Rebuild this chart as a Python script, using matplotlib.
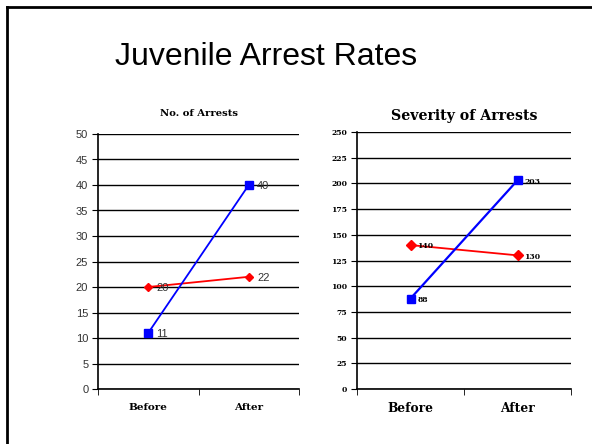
import matplotlib
matplotlib.use("Agg")
import matplotlib.pyplot as plt
from matplotlib.lines import Line2D

categories = ["Before", "After"]
arrests_blue = [11, 40]
arrests_red = [20, 22]
severity_blue = [88, 203]
severity_red = [140, 130]
arrest_ticks = list(range(0, 51, 5))
severity_ticks = list(range(0, 251, 25))

W, H = 592, 444
fig = plt.figure(figsize=(W / 100, H / 100), dpi=100)
fig.patch.set_facecolor("white")

# slide border
fig.add_artist(Line2D([6.5 / W, 6.5 / W], [0, 1 - 7 / H], transform=fig.transFigure, color="black", lw=2))
fig.add_artist(Line2D([6.5 / W, 1], [1 - 7 / H, 1 - 7 / H], transform=fig.transFigure, color="black", lw=2))

fig.text(266 / W, 1 - 57 / H, "Juvenile Arrest Rates", ha="center", va="center",
         fontsize=23, family="Liberation Sans", color="black")

serif = "DejaVu Serif"


def setup(ax, ticks, ymax, tickfont, tickfs, tickweight, tickcolor, catfs, catpad):
    x = list(range(len(categories)))
    ax.set_xlim(-0.5, len(categories) - 0.5)
    ax.set_ylim(0, ymax)
    ax.set_yticks(ticks)
    ax.set_yticklabels([str(t) for t in ticks], fontsize=tickfs, family=tickfont,
                       fontweight=tickweight, color=tickcolor)
    ax.yaxis.grid(True, color="black", lw=1)
    ax.set_axisbelow(True)
    for s in ["top", "right"]:
        ax.spines[s].set_visible(False)
    for s in ["left", "bottom"]:
        ax.spines[s].set_color("black")
        ax.spines[s].set_linewidth(1.2)
    ax.set_xticks(x)
    ax.set_xticklabels(categories, family=serif, fontweight="bold", fontsize=catfs)
    ax.tick_params(axis="x", which="major", length=0, pad=catpad)
    ax.set_xticks([-0.5 + i for i in range(len(categories) + 1)], minor=True)
    ax.tick_params(axis="x", which="minor", length=4, direction="out", color="black")
    ax.tick_params(axis="y", length=4, direction="out", color="black", pad=3)
    return x


# Left chart
ax1 = fig.add_axes([98 / W, 1 - 389 / H, 201 / W, 255 / H])
x = setup(ax1, arrest_ticks, 50, "Liberation Sans", 8, "normal", "#333333", 7.5, 10)
ax1.plot(x, arrests_red, color="#FF0000", marker="D", ms=4.5, lw=1.3, clip_on=False)
ax1.plot(x, arrests_blue, color="#0000FF", marker="s", ms=5.5, lw=1.3, clip_on=False)
for series in (arrests_red, arrests_blue):
    for xi, v in zip(x, series):
        ax1.annotate(str(v), (xi, v), xytext=(6, -1), textcoords="offset points",
                     ha="left", va="center", fontsize=8, family="Liberation Sans", color="#333333")
ax1.set_title("No. of Arrests", family=serif, fontweight="bold", fontsize=7.2, pad=13)

# Right chart
ax2 = fig.add_axes([357 / W, 1 - 389 / H, 214 / W, 257 / H])
x = setup(ax2, severity_ticks, 250, serif, 5.5, "bold", "black", 8.8, 9)
ax2.plot(x, severity_red, color="#FF0000", marker="D", ms=5, lw=1.3, clip_on=False)
ax2.plot(x, severity_blue, color="#0000FF", marker="s", ms=6, lw=1.6, clip_on=False)
for series in (severity_red, severity_blue):
    for xi, v in zip(x, series):
        ax2.annotate(str(v), (xi, v), xytext=(5, -1), textcoords="offset points",
                     ha="left", va="center", fontsize=5.5, family=serif, fontweight="bold", color="black")
ax2.set_title("Severity of Arrests", family=serif, fontweight="bold", fontsize=10.2, pad=9)

fig.savefig("out.png", dpi=100, facecolor="white")
